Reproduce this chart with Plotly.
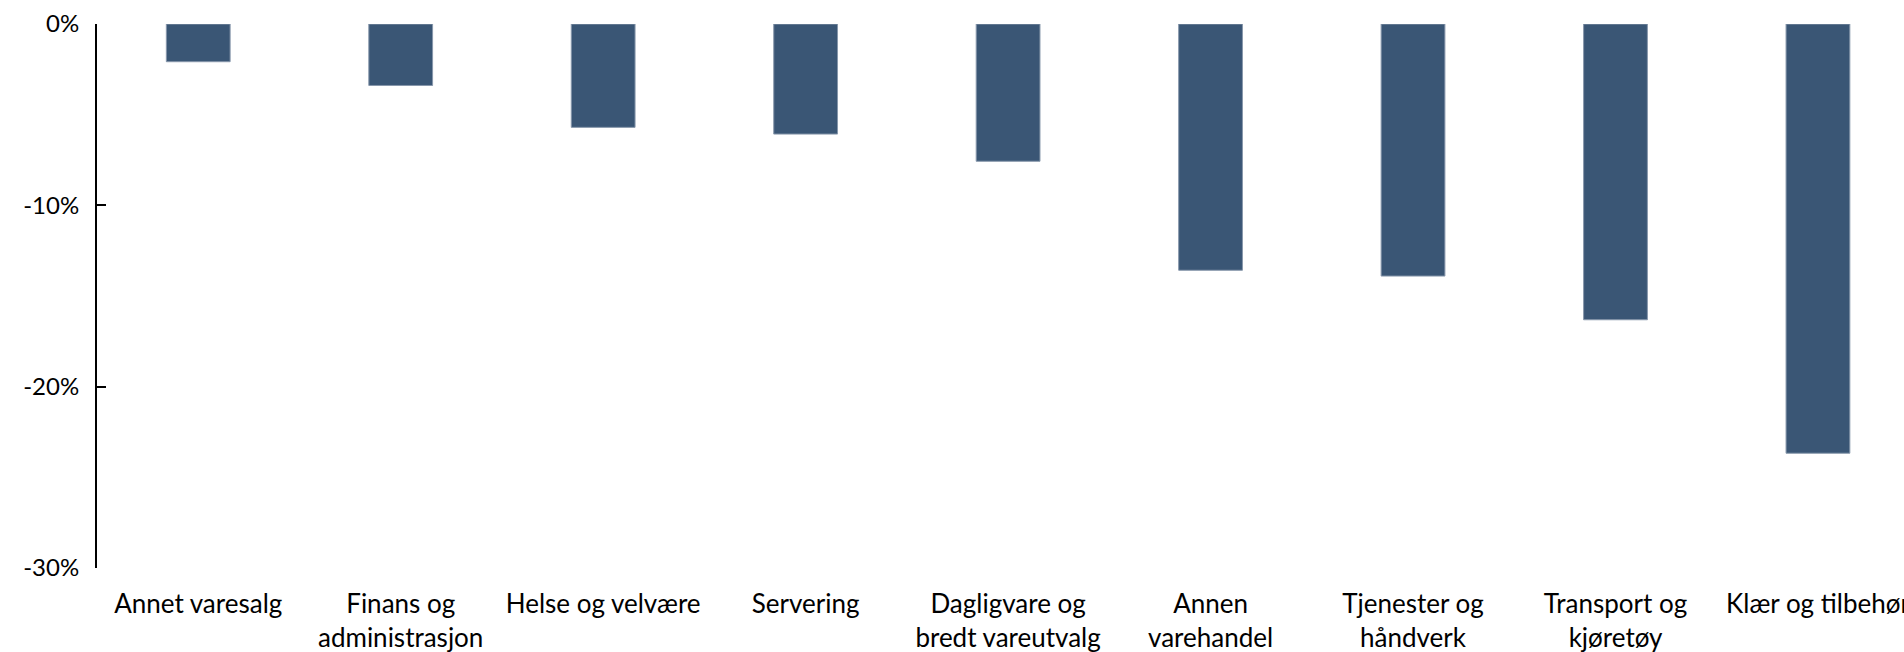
import plotly.graph_objects as go

categories = [
    "Annet varesalg",
    "Finans og<br>administrasjon",
    "Helse og velvære",
    "Servering",
    "Dagligvare og<br>bredt vareutvalg",
    "Annen<br>varehandel",
    "Tjenester og<br>håndverk",
    "Transport og<br>kjøretøy",
    "Klær og tilbehør",
]
values = [-2.08, -3.39, -5.70, -6.07, -7.57, -13.58, -13.90, -16.31, -23.67]

y_tickvals = [0, -10, -20, -30]
y_ticktext = ["0%", "-10%", "-20%", "-30%"]

FONT = "Lato"
XRANGE = [-0.5, 8.425]

fig = go.Figure()
fig.add_trace(go.Bar(
    x=list(range(len(categories))),
    y=values,
    width=0.315,
    marker=dict(color="#3a5675", line=dict(color="#8797ab", width=1)),
    hoverinfo="skip",
))

fig.update_layout(
    width=1904, height=652,
    margin=dict(l=97, r=0, t=24, b=84),
    paper_bgcolor="white", plot_bgcolor="white",
    showlegend=False,
    font=dict(family=FONT, size=26, color="#000000"),
    xaxis=dict(
        tickmode="array",
        tickvals=list(range(len(categories))),
        ticktext=categories,
        range=XRANGE,
        showgrid=False, zeroline=False, showline=False,
        ticks="", ticklabelstandoff=18,
        ticklabeloverflow="allow",
        tickfont=dict(family=FONT, size=26, color="#000000"),
        automargin=False,
        fixedrange=True,
    ),
    xaxis2=dict(
        overlaying="x", side="top", range=XRANGE,
        showline=True, linecolor="#000000", linewidth=2,
        showticklabels=False, ticks="", showgrid=False, zeroline=False,
        automargin=False, fixedrange=True,
    ),
    yaxis=dict(
        range=[-30, 0],
        tickmode="array",
        tickvals=y_tickvals,
        ticktext=y_ticktext,
        showgrid=False, zeroline=False,
        showline=True, linecolor="#000000", linewidth=2,
        ticks="inside", ticklen=9, tickwidth=2, tickcolor="#000000",
        ticklabelstandoff=11,
        tickfont=dict(family=FONT, size=24, color="#000000"),
        automargin=False,
        fixedrange=True,
    ),
)

fig.write_html(
    "out.html",
    config={"displayModeBar": False},
    post_script="document.body.style.margin='0';document.body.style.overflow='hidden';",
)
